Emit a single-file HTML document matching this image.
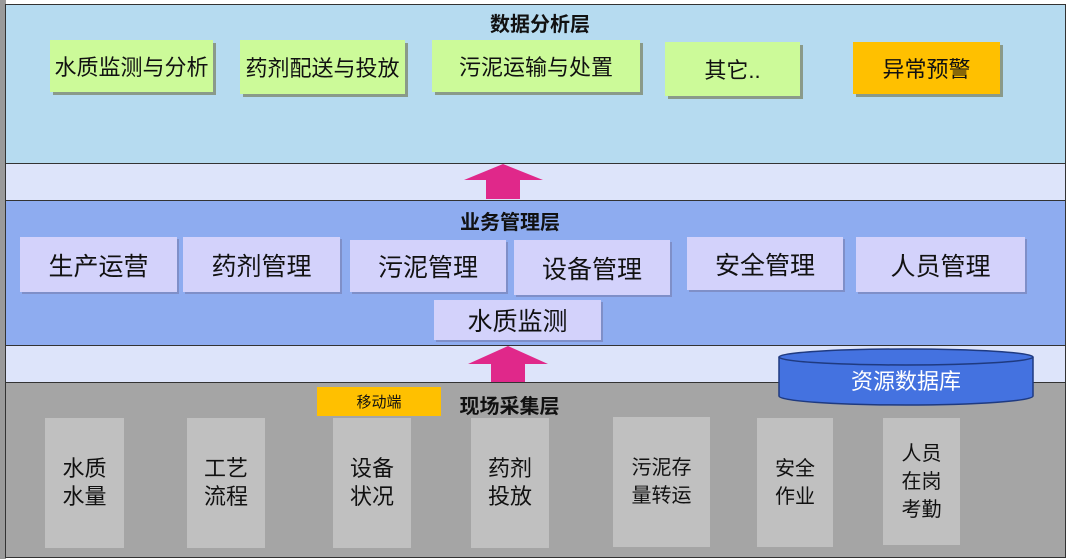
<!DOCTYPE html>
<html><head><meta charset="utf-8"><style>
body{margin:0;width:1067px;height:559px;background:#fff;position:relative;overflow:hidden;font-family:"Liberation Sans","Noto Sans CJK SC",sans-serif;}
div{position:absolute;box-sizing:border-box;}
.c{display:flex;align-items:center;justify-content:center;text-align:center;color:#111;}
.g{background:#ccfa99;box-shadow:3px 3px 0 #8a9a8a;font-size:22px;}
.p{background:#d3d2fb;box-shadow:2px 2px 0 #7f8fc8;font-size:25px;}
.col{background:#c0c0c0;font-size:22px;line-height:28px;}
</style></head><body>
<div style="left:0;top:0;width:6px;height:559px;background:#9a9a9a"></div>
<div style="left:5px;top:160px;width:1061px;height:44px;background:#dde4fa;border-left:1.5px solid #333;border-right:1.5px solid #333"></div>
<div style="left:5px;top:342px;width:1061px;height:44px;background:#dde4fa;border-left:1.5px solid #333;border-right:1.5px solid #333"></div>
<div style="left:5px;top:4px;width:1061px;height:160px;background:#b6dbf0;border:1.5px solid #333"></div>
<div style="left:5px;top:200px;width:1061px;height:146px;background:#8eacf0;border:1.5px solid #333"></div>
<div style="left:5px;top:382px;width:1061px;height:176px;background:#a5a5a5;border:1.5px solid #333"></div>

<div class="c" style="left:470px;top:8px;width:140px;height:28px;font-size:20px;font-weight:bold">数据分析层</div>
<div class="c g" style="left:50px;top:40px;width:163px;height:52px">水质监测与分析</div>
<div class="c g" style="left:240px;top:40px;width:165px;height:54px">药剂配送与投放</div>
<div class="c g" style="left:432px;top:40px;width:208px;height:52px">污泥运输与处置</div>
<div class="c g" style="left:665px;top:42px;width:135px;height:54px">其它..</div>
<div class="c g" style="left:853px;top:42px;width:147px;height:52px;background:#ffc000">异常预警</div>

<svg style="position:absolute;left:0;top:0" width="1067" height="559">
<polygon points="503,164 543,180 520,180 520,199 486,199 486,180 464,180" fill="#e0288a"/>
<polygon points="508,346 548,364 525,364 525,382 491,382 491,364 468,364" fill="#e0288a"/>
<path d="M779,357 L779,396 A127,9 0 0 0 1033,396 L1033,357" fill="#4472e0" stroke="#1f3a80" stroke-width="1.5"/>
<ellipse cx="906" cy="357" rx="127" ry="8" fill="#4472e0" stroke="#1f3a80" stroke-width="1.5"/>
</svg>
<div class="c" style="left:779px;top:364px;width:254px;height:32px;color:#fff;font-size:22px">资源数据库</div>

<div class="c" style="left:440px;top:206px;width:140px;height:28px;font-size:20px;font-weight:bold">业务管理层</div>
<div class="c p" style="left:20px;top:237px;width:157px;height:55px">生产运营</div>
<div class="c p" style="left:183px;top:237px;width:157px;height:55px">药剂管理</div>
<div class="c p" style="left:350px;top:240px;width:156px;height:52px">污泥管理</div>
<div class="c p" style="left:514px;top:240px;width:156px;height:55px">设备管理</div>
<div class="c p" style="left:687px;top:237px;width:156px;height:53px">安全管理</div>
<div class="c p" style="left:856px;top:237px;width:169px;height:55px">人员管理</div>
<div class="c p" style="left:434px;top:300px;width:167px;height:40px">水质监测</div>

<div class="c" style="left:317px;top:387px;width:124px;height:29px;background:#ffc000;font-size:15px">移动端</div>
<div class="c" style="left:447px;top:390px;width:125px;height:28px;font-size:20px;font-weight:bold">现场采集层</div>

<div class="c col" style="left:45px;top:418px;width:79px;height:130px">水质<br>水量</div>
<div class="c col" style="left:187px;top:418px;width:78px;height:130px">工艺<br>流程</div>
<div class="c col" style="left:333px;top:418px;width:78px;height:130px">设备<br>状况</div>
<div class="c col" style="left:471px;top:418px;width:78px;height:130px">药剂<br>投放</div>
<div class="c col" style="left:613px;top:417px;width:97px;height:130px;font-size:20px">污泥存<br>量转运</div>
<div class="c col" style="left:757px;top:418px;width:76px;height:129px;font-size:20px">安全<br>作业</div>
<div class="c col" style="left:883px;top:418px;width:77px;height:127px;font-size:20px">人员<br>在岗<br>考勤</div>
</body></html>
